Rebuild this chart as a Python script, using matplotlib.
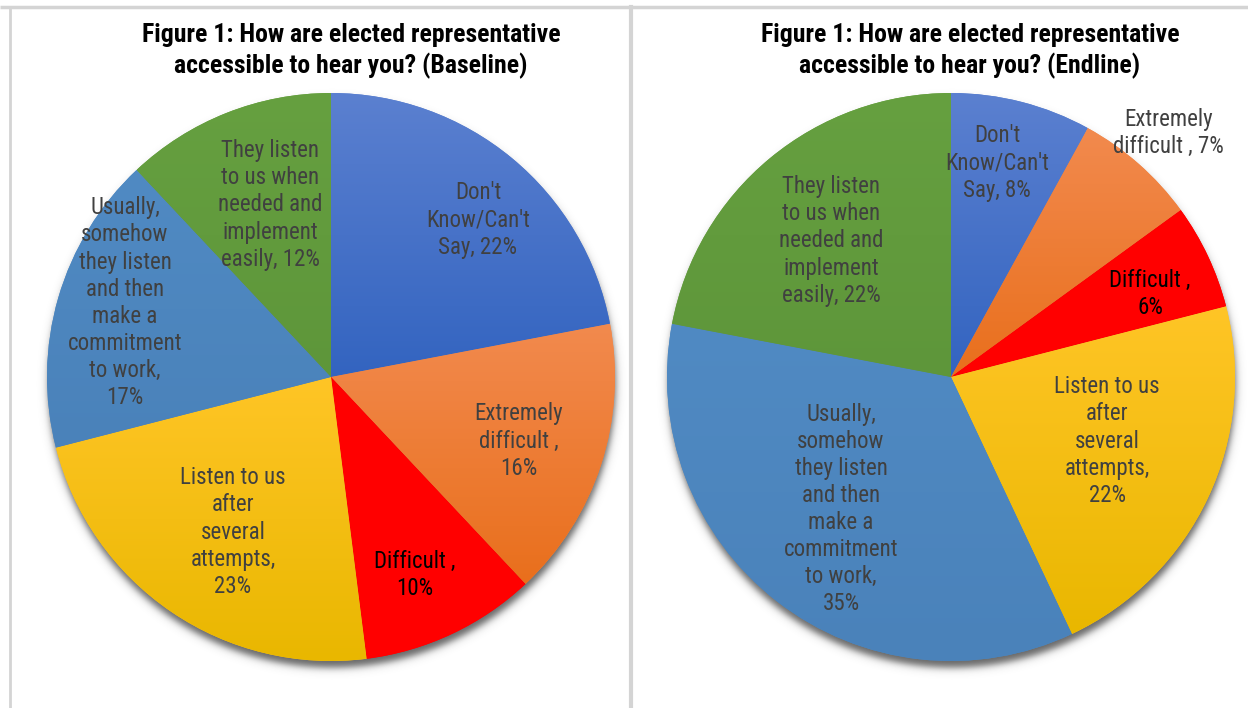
import numpy as np
import matplotlib
matplotlib.use("Agg")
import matplotlib.pyplot as plt
from matplotlib import font_manager
from matplotlib.colors import to_rgb

# ---- data ----
categories = ["Don't Know/Can't Say", "Extremely difficult ", "Difficult ",
              "Listen to us after several attempts",
              "Usually, somehow they listen and then make a commitment to work",
              "They listen to us when needed and implement easily"]
baseline_values = [22, 16, 10, 23, 17, 12]
endline_values = [8, 7, 6, 22, 35, 22]

baseline_labels = ["Don't\nKnow/Can't\nSay, 22%",
                   "Extremely\ndifficult ,\n16%",
                   "Difficult ,\n10%",
                   "Listen to us\nafter\nseveral\nattempts,\n23%",
                   "Usually,\nsomehow\nthey listen\nand then\nmake a\ncommitment\nto work,\n17%",
                   "They listen\nto us when\nneeded and\nimplement\neasily, 12%"]
endline_labels = ["Don't\nKnow/Can't\nSay, 8%",
                  "Extremely\ndifficult , 7%",
                  "Difficult ,\n6%",
                  "Listen to us\nafter\nseveral\nattempts,\n22%",
                  "Usually,\nsomehow\nthey listen\nand then\nmake a\ncommitment\nto work,\n35%",
                  "They listen\nto us when\nneeded and\nimplement\neasily, 22%"]

titles = ["Figure 1: How are elected representative\naccessible to hear you? (Baseline)",
          "Figure 1: How are elected representative\naccessible to hear you? (Endline)"]

# (top, bottom) gradient colours per slice
slice_colors = [("#5b80d0", "#3364c0"),
                ("#f28a4e", "#e96f1c"),
                ("#ff0000", "#ff0000"),
                ("#ffc526", "#e9b700"),
                ("#508ac3", "#4a82ba"),
                ("#66a040", "#5e963a")]
text_colors = ["#404040", "#404040", "#000000", "#404040", "#404040", "#404040"]

# ---- fonts: prefer a condensed sans if one is installed ----
available = {f.name for f in font_manager.fontManager.ttflist}
preferred = ["Liberation Sans Narrow", "Arial Narrow", "Roboto Condensed",
             "Open Sans Condensed", "Noto Sans Condensed"]
condensed = [n for n in preferred if n in available]
base_font = condensed[0] if condensed else "Liberation Sans"
plt.rcParams["font.family"] = [base_font, "DejaVu Sans"]

W, H = 1248, 708
fig = plt.figure(figsize=(W / 100, H / 100), dpi=100)
ax = fig.add_axes([0, 0, 1, 1])


def py(y):
    return H - y


# panel frames
frame = "#d4d4d4"
ax.plot([0, W], [py(7), py(7)], color=frame, lw=2.5, solid_capstyle="butt")
ax.plot([10, 10], [py(7), 0], color=frame, lw=2.0)
ax.plot([631, 631], [py(7), 0], color=frame, lw=3.0)

R = 284
# label placement: (fraction of radius, angular nudge in degrees) per slice
panels = [
    dict(center=(331, 377), values=baseline_values, labels=baseline_labels,
         title=titles[0], title_x=351,
         lab_pos=[(0.757, -3.5), (0.699, -0.8), (0.757, -2.2),
                  (0.646, 1.9), (0.771, -3.6), (0.643, -2.1)]),
    dict(center=(951, 377), values=endline_values, labels=endline_labels,
         title=titles[1], title_x=970,
         lab_pos=[(0.771, 2.3), (1.15, -0.3), (0.759, -2.6),
                  (0.594, 2.9), (0.605, -2.0), (0.639, 1.8)]),
]


def shadow(cx, cy):
    # soft drop shadow under the pie
    pad = 40
    xs = np.arange(cx - R - pad, cx + R + pad)
    ys = np.arange(cy - R - pad, cy + R + pad)
    X, Y = np.meshgrid(xs, ys)
    sx, sy = cx + 1, cy - 7
    d = np.hypot(X - sx, Y - sy) - R
    a = 0.8 * 0.5 * (1 - np.tanh(d / 4.5))
    img = np.zeros(X.shape + (4,))
    img[..., :3] = 0.25
    img[..., 3] = a
    ax.imshow(img, extent=(xs[0], xs[-1], ys[0], ys[-1]), origin="lower",
              zorder=1, interpolation="bilinear")


for p in panels:
    cx, cy_px = p["center"]
    cy = py(cy_px)
    shadow(cx, cy)
    wedges, _ = ax.pie(p["values"], startangle=90, counterclock=False,
                       center=(cx, cy), radius=R, colors=[c[0] for c in slice_colors],
                       wedgeprops=dict(linewidth=0, zorder=2), frame=True)
    for i, w in enumerate(wedges):
        top, bot = slice_colors[i]
        bb = w.get_path().get_extents()
        t = np.linspace(0, 1, 256)[:, None]
        c0, c1 = np.array(to_rgb(bot)), np.array(to_rgb(top))
        grad = (c0[None, :] * (1 - t) + c1[None, :] * t)[:, None, :]
        im = ax.imshow(grad, extent=(bb.x0, bb.x1, bb.y0, bb.y1), origin="lower",
                       aspect="auto", zorder=3, interpolation="bilinear")
        im.set_clip_path(w)
        frac, nudge = p["lab_pos"][i]
        ang = np.deg2rad((w.theta1 + w.theta2) / 2 + nudge)
        r = frac * R
        ax.text(cx + r * np.cos(ang), cy + r * np.sin(ang), p["labels"][i],
                ha="center", va="center", fontsize=16.5, color=text_colors[i],
                linespacing=1.23, zorder=5)
    ax.text(p["title_x"], py(51), p["title"], ha="center", va="center",
            fontsize=18.5, fontweight="bold", color="#000000", linespacing=1.24,
            zorder=5)

ax.set_xlim(0, W)
ax.set_ylim(0, H)
ax.set_aspect("equal")
ax.axis("off")
fig.savefig("out.png", dpi=100)
